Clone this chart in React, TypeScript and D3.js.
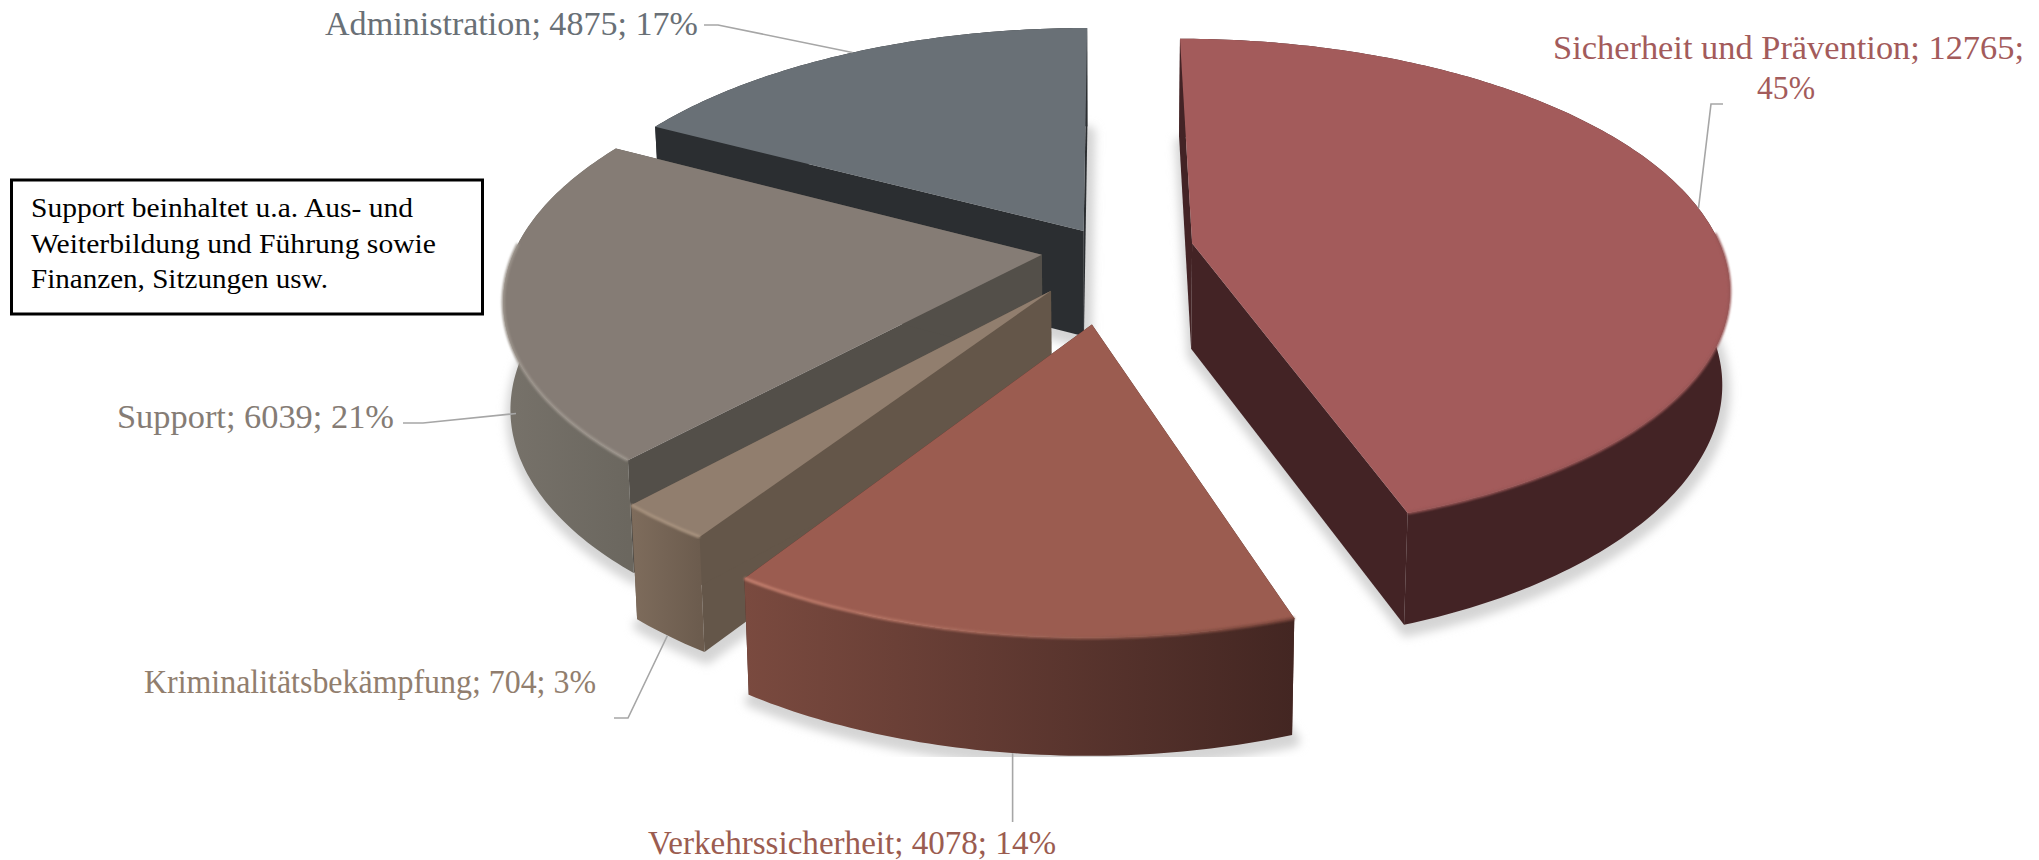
import { useRef, useEffect } from 'react';
import * as d3 from 'd3';

const categories = ['Sicherheit und Prävention', 'Verkehrssicherheit', 'Kriminalitätsbekämpfung', 'Support', 'Administration'];
const values = [12765, 4078, 704, 6039, 4875];
const percents = [45, 14, 3, 21, 17];

const topColors = ['#a35b5b', '#9b5c50', '#917e6e', '#857c75', '#697076'];
const cutColors = ['#432325', '#4a2a24', '#645649', '#534f49', '#2b2e31'];
const wallFrom = ['#432325', '#7a4a3f', '#7e6c5c', '#77726a', '#2b2e31'];
const wallTo = ['#432325', '#432622', '#6c5c4e', '#6b675f', '#2b2e31'];
const rimColors = ['#9a5656', '#c4806f', '#a8937f', '#9d958d', '#697076'];
const explode = [0.16, 0.29, 0.17, 0.125, 0.09];
const radii = [0.99, 0.96, 0.975, 0.985, 1];
const nudgeU = [0, 0.008, 0, 0, 0];
const nudgeV = [0, 0.005, 0.03, 0, 0];
const paintOrder = [4, 0, 3, 2, 1];

// projection of the pie plane, fitted by eye
const cam = { cx: 1108, cy: 249.5, ax: 535, by: 243.5, persp: -0.171, depth: 106, taper: 0.012 };

function project(u: number, v: number, h = 0): [number, number] {
  const w = 1 + cam.persp * v;
  const thin = u > 0 ? 1 - 0.1 * u * u : 1; // wall gets thinner towards the right edge
  return [
    cam.cx + (cam.ax * u / w) * (1 - cam.taper * h),
    cam.cy + (cam.by * v) / w + (cam.depth * h * thin) / Math.pow(w, 0.45),
  ];
}

export default function App() {
  const svgRef = useRef<SVGSVGElement>(null);

  useEffect(() => {
    const svg = d3.select(svgRef.current);
    svg.selectAll('*').remove();

    const defs = svg.append('defs');
    defs.append('filter').attr('id', 'shadowBlur').attr('x', '-10%').attr('y', '-10%').attr('width', '120%').attr('height', '120%')
      .append('feGaussianBlur').attr('stdDeviation', 5);
    defs.append('filter').attr('id', 'rimBlur').attr('x', '-5%').attr('y', '-5%').attr('width', '110%').attr('height', '110%')
      .append('feGaussianBlur').attr('stdDeviation', 1.1);
    defs.append('clipPath').attr('id', 'plotClip').append('rect').attr('width', 2039).attr('height', 757);

    const arcs = d3.pie<number>().sort(null)(values);
    const line = d3.line();

    const slices = arcs.map((a, i) => {
      const mid = (a.startAngle + a.endAngle) / 2;
      const ou = explode[i] * Math.sin(mid) + nudgeU[i];
      const ov = -explode[i] * Math.cos(mid) + nudgeV[i];
      const n = Math.max(2, Math.ceil((a.endAngle - a.startAngle) / 0.015));
      const angles = d3.range(n + 1).map(k => a.startAngle + ((a.endAngle - a.startAngle) * k) / n);
      const at = (t: number, h: number) => project(ou + radii[i] * Math.sin(t), ov - radii[i] * Math.cos(t), h);
      return { i, mid, ou, ov, angles, at, apex: (h: number) => project(ou, ov, h) };
    });

    // soft shadow: bottom faces, spread and blurred, cut off at the plot edge
    const shadow = svg.append('g').attr('clip-path', 'url(#plotClip)').append('g').attr('filter', 'url(#shadowBlur)');
    slices.forEach(s => {
      const pts = [s.apex(1), ...s.angles.map(t => s.at(t, 1))].map(p => [p[0] + 2, p[1] + 6] as [number, number]);
      shadow.append('path').attr('d', line(pts) + 'Z')
        .attr('fill', '#d4d4d4').attr('stroke', '#d4d4d4').attr('stroke-width', 12).attr('stroke-linejoin', 'round');
    });

    paintOrder.forEach(idx => {
      const s = slices[idx];
      const g = svg.append('g');

      const first = s.angles[0];
      const last = s.angles[s.angles.length - 1];
      [first, last].forEach(t => {
        g.append('path')
          .attr('d', line([s.apex(0), s.at(t, 0), s.at(t, 1), s.apex(1)]) + 'Z')
          .attr('fill', cutColors[idx]);
      });

      const topRim = s.angles.map(t => s.at(t, 0));
      const botRim = s.angles.map(t => s.at(t, 1));
      const xs = topRim.map(p => p[0]);
      const grad = defs.append('linearGradient').attr('id', `wall${idx}`).attr('gradientUnits', 'userSpaceOnUse')
        .attr('x1', d3.min(xs)!).attr('x2', d3.max(xs)!).attr('y1', 0).attr('y2', 0);
      grad.append('stop').attr('offset', 0).attr('stop-color', wallFrom[idx]);
      grad.append('stop').attr('offset', 1).attr('stop-color', wallTo[idx]);
      g.append('path').attr('d', line([...topRim, ...botRim.slice().reverse()]) + 'Z').attr('fill', `url(#wall${idx})`);

      g.append('path').attr('d', line([s.apex(0), ...topRim]) + 'Z').attr('fill', topColors[idx]);

      // bevel highlight only where the rim faces the viewer
      const frontRim = s.angles.filter(t => Math.cos(t) < 0.05).map(t => s.at(t, 0));
      if (frontRim.length > 1) {
        const rimGrad = defs.append('linearGradient').attr('id', `rim${idx}`).attr('gradientUnits', 'userSpaceOnUse')
          .attr('x1', d3.min(xs)!).attr('x2', d3.max(xs)!).attr('y1', 0).attr('y2', 0);
        rimGrad.append('stop').attr('offset', 0).attr('stop-color', rimColors[idx]);
        rimGrad.append('stop').attr('offset', 1).attr('stop-color', idx === 1 ? '#7a463c' : rimColors[idx]);
        g.append('path').attr('d', line(frontRim)).attr('fill', 'none')
          .attr('stroke', `url(#rim${idx})`).attr('stroke-width', 3).attr('filter', 'url(#rimBlur)');
      }
    });

    // leader lines: elbow next to the label, other end on the slice
    const leaders: [number, [number, number][], number, number][] = [
      [0, [[1723, 104], [1711, 104]], 1.42, 0],
      [1, [[slices[1].at(3.26, 1)[0], 822]], 3.26, 1],
      [2, [[614, 718], [628, 718]], 3.8, 1],
      [3, [[403, 423], [423, 423]], 4.35, 0.62],
      [4, [[704, 25], [718, 25]], 5.75, 0],
    ];
    leaders.forEach(([idx, pts, angle, h]) => {
      svg.append('path').attr('d', line([...pts, slices[idx].at(angle, h)]))
        .attr('fill', 'none').attr('stroke', '#a6a6a6').attr('stroke-width', 1.6);
    });

    // data labels
    const labelFont = '"Liberation Serif", serif';
    const labels: [number, string, number, number, number][] = [
      [0, `${categories[0]}; ${values[0]};`, 1553, 59, 471],
      [0, `${percents[0]}%`, 1757, 99, 58],
      [1, `${categories[1]}; ${values[1]}; ${percents[1]}%`, 648, 854, 408],
      [2, `${categories[2]}; ${values[2]}; ${percents[2]}%`, 144, 693, 452],
      [3, `${categories[3]}; ${values[3]}; ${percents[3]}%`, 117, 428, 277],
      [4, `${categories[4]}; ${values[4]}; ${percents[4]}%`, 325, 35, 373],
    ];
    labels.forEach(([idx, text, x, y, len]) => {
      svg.append('text').attr('x', x).attr('y', y).attr('textLength', len).attr('lengthAdjust', 'spacingAndGlyphs')
        .attr('font-family', labelFont).attr('font-size', 34).attr('fill', topColors[idx]).text(text);
    });

    // note box
    svg.append('rect').attr('x', 11.5).attr('y', 180).attr('width', 471).attr('height', 134)
      .attr('fill', '#fff').attr('stroke', '#000').attr('stroke-width', 3);
    const note: [string, number, number][] = [
      ['Support beinhaltet u.a. Aus- und', 217, 382],
      ['Weiterbildung und Führung sowie', 253, 405],
      ['Finanzen, Sitzungen usw.', 288, 297],
    ];
    note.forEach(([text, y, len]) => {
      svg.append('text').attr('x', 31).attr('y', y).attr('textLength', len).attr('lengthAdjust', 'spacingAndGlyphs')
        .attr('font-family', labelFont).attr('font-size', 27).attr('fill', '#000').text(text);
    });
  }, []);

  return <svg ref={svgRef} width={2039} height={860} style={{ position: 'absolute', left: 0, top: 0, display: 'block' }} />;
}
